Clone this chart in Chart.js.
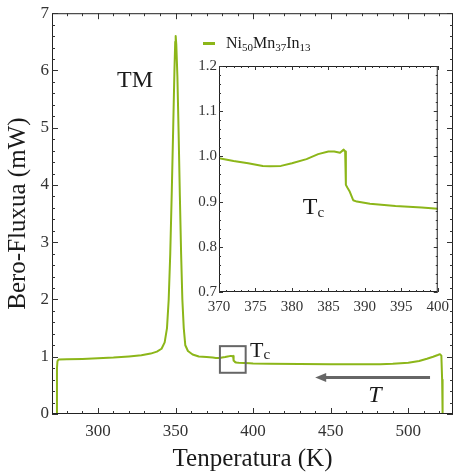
<!DOCTYPE html>
<html>
<head>
<meta charset="utf-8">
<script src="https://cdn.jsdelivr.net/npm/chart.js@4.4.0/dist/chart.umd.min.js"></script>
<style>
  body { margin: 0; background: #fff; }
  #wrap { position: relative; width: 455px; height: 475px; }
  #main { position: absolute; left: 0; top: 0; }
  #inset { position: absolute; left: 190px; top: 55px; }
</style>
</head>
<body>
<div id="wrap">
  <canvas id="main" width="455" height="475"></canvas>
  <canvas id="inset" width="265" height="260"></canvas>
</div>
<script>
// DSC cooling curve, heat flow (mW) vs temperature (K)
var temperature = [
  273.5, 273.6, 273.9, 274.6, 280, 290, 300, 310, 320, 328, 334, 338, 341, 343,
  344.5, 345.6, 346.6, 347.6, 348.5, 349.3, 349.8, 350.1, 350.5, 351.2, 352.0,
  352.8, 353.6, 354.4, 355.3, 356.3, 358, 361, 365,
  370, 372, 374, 376, 377, 378.5, 380, 382, 383.6, 385, 385.8, 386.6, 387.1,
  387.3, 387.4, 387.6, 387.9, 388.4, 388.9, 390.7, 394.2, 397.8, 400,
  410, 430, 450, 470, 482, 490, 500, 507, 512, 516, 519, 520.4, 521.3, 521.8, 522.1
];
var heatFlow = [
  0, 0.80, 0.92, 0.95, 0.955, 0.962, 0.972, 0.985, 1.005, 1.025, 1.055, 1.09, 1.14, 1.25,
  1.5, 2.0, 2.8, 3.9, 5.0, 6.0, 6.5, 6.6, 6.45, 5.9, 4.9,
  3.8, 2.8, 2.0, 1.5, 1.2, 1.1, 1.04, 1.005,
  0.996, 0.99, 0.985, 0.979, 0.978, 0.979, 0.985, 0.994, 1.005, 1.011, 1.011, 1.008, 1.015,
  1.011, 0.937, 0.931, 0.923, 0.903, 0.900, 0.895, 0.890, 0.887, 0.884,
  0.878, 0.873, 0.870, 0.868, 0.869, 0.877, 0.895, 0.925, 0.965, 1.0, 1.03, 1.045, 1.02, 0.6, 0
];

var xTicks = [300, 350, 400, 450, 500];
var yTicks = [0, 1, 2, 3, 4, 5, 6, 7];
var insetXTicks = [370, 375, 380, 385, 390, 395, 400];
var insetYTicks = [0.7, 0.8, 0.9, 1.0, 1.1, 1.2];

var lineColor = 'rgb(140,182,25)';
var serif = '"Liberation Serif", "DejaVu Serif", serif';

var points = temperature.map(function (t, i) { return { x: t, y: heatFlow[i] }; });

// frame on all four sides with inward major/minor ticks (Mathematica style)
function frameTicks(cfg) {
  function isMajor(list, v, step) {
    return list.some(function (m) { return Math.abs(m - v) < step / 10; });
  }
  return {
    id: 'frameTicks',
    afterDraw: function (chart) {
      var ctx = chart.ctx, a = chart.chartArea, sx = chart.scales.x, sy = chart.scales.y;
      var i, v, p, len;
      ctx.save();
      ctx.strokeStyle = '#222';
      ctx.lineWidth = 1;
      ctx.strokeRect(a.left + 0.5, a.top + 0.5, a.right - a.left - 1, a.bottom - a.top - 1);
      ctx.strokeStyle = '#333';
      ctx.beginPath();
      for (i = Math.ceil(cfg.xMin / cfg.xStep - 1e-9); i * cfg.xStep <= cfg.xMax + 1e-9; i++) {
        v = i * cfg.xStep;
        p = Math.round(sx.getPixelForValue(v)) + 0.5;
        len = isMajor(cfg.xMajor, v, cfg.xStep) ? cfg.major : cfg.minor;
        ctx.moveTo(p, a.bottom); ctx.lineTo(p, a.bottom - len);
        ctx.moveTo(p, a.top); ctx.lineTo(p, a.top + len);
      }
      for (i = Math.ceil(cfg.yMin / cfg.yStep - 1e-9); i * cfg.yStep <= cfg.yMax + 1e-9; i++) {
        v = i * cfg.yStep;
        p = Math.round(sy.getPixelForValue(v)) + 0.5;
        len = isMajor(cfg.yMajor, v, cfg.yStep) ? cfg.major : cfg.minor;
        ctx.moveTo(a.left, p); ctx.lineTo(a.left + len, p);
        ctx.moveTo(a.right, p); ctx.lineTo(a.right - len, p);
      }
      ctx.stroke();
      ctx.restore();
    }
  };
}

// text with a lowered, smaller subscript run; returns the drawn width
function subText(ctx, parts, x, y, size, subSize, drop) {
  var cx = x;
  parts.forEach(function (part, k) {
    var sub = k % 2 === 1;
    ctx.font = (sub ? subSize : size) + 'px ' + serif;
    ctx.fillText(part, cx, sub ? y + drop : y);
    cx += ctx.measureText(part).width;
  });
  return cx - x;
}

var mainNotes = {
  id: 'mainNotes',
  afterDraw: function (chart) {
    var ctx = chart.ctx, a = chart.chartArea, sx = chart.scales.x, sy = chart.scales.y;
    ctx.save();
    ctx.fillStyle = '#1a1a1a';
    ctx.textBaseline = 'alphabetic';
    ctx.textAlign = 'left';

    // legend
    ctx.strokeStyle = lineColor;
    ctx.lineWidth = 3;
    ctx.beginPath();
    ctx.moveTo(a.left + 151, 43.5); ctx.lineTo(a.left + 163, 43.5);
    ctx.stroke();
    subText(ctx, ['Ni', '50', 'Mn', '37', 'In', '13'], a.left + 174, 48, 16, 11, 3);

    // peak label
    ctx.font = '24px ' + serif;
    ctx.fillText('TM', sx.getPixelForValue(312.3), sy.getPixelForValue(5.71));

    // zoom box around the Curie step
    ctx.strokeStyle = '#666';
    ctx.lineWidth = 2;
    var bx0 = sx.getPixelForValue(378.6), bx1 = sx.getPixelForValue(395.2);
    var by0 = sy.getPixelForValue(1.185), by1 = sy.getPixelForValue(0.72);
    ctx.strokeRect(bx0, by0, bx1 - bx0, by1 - by0);
    subText(ctx, ['T', 'c'], sx.getPixelForValue(398.0), sy.getPixelForValue(0.993), 22, 15, 2);

    // cooling direction arrow
    var ay = Math.round(sy.getPixelForValue(0.65)) + 0.5;
    var ax0 = sx.getPixelForValue(514), ax1 = sx.getPixelForValue(440);
    ctx.lineWidth = 3;
    ctx.beginPath();
    ctx.moveTo(ax0, ay); ctx.lineTo(ax1 + 8, ay);
    ctx.stroke();
    ctx.fillStyle = '#666';
    ctx.beginPath();
    ctx.moveTo(ax1, ay); ctx.lineTo(ax1 + 11, ay - 4.5); ctx.lineTo(ax1 + 11, ay + 4.5);
    ctx.closePath();
    ctx.fill();

    ctx.fillStyle = '#1a1a1a';
    ctx.font = 'italic 24px ' + serif;
    ctx.textAlign = 'center';
    ctx.fillText('T', sx.getPixelForValue(478.5), sy.getPixelForValue(0.21));
    ctx.restore();
  }
};

var insetNotes = {
  id: 'insetNotes',
  afterDraw: function (chart) {
    var ctx = chart.ctx, sx = chart.scales.x, sy = chart.scales.y;
    ctx.save();
    ctx.fillStyle = '#1a1a1a';
    ctx.textAlign = 'left';
    subText(ctx, ['T', 'c'], sx.getPixelForValue(381.5), sy.getPixelForValue(0.872), 24, 15, 3);
    ctx.restore();
  }
};

function tickSetter(list) {
  return function (scale) {
    scale.ticks = list.map(function (v) { return { value: v }; });
  };
}

new Chart(document.getElementById('main').getContext('2d'), {
  type: 'line',
  data: {
    datasets: [{
      label: 'Ni50Mn37In13',
      data: points,
      borderColor: lineColor,
      borderWidth: 2,
      pointRadius: 0,
      tension: 0,
      borderJoinStyle: 'round'
    }]
  },
  options: {
    responsive: false,
    devicePixelRatio: 1,
    animation: false,
    layout: { padding: { left: 0, right: 2, top: 12, bottom: 0 } },
    plugins: {
      legend: { display: false },
      tooltip: { enabled: false }
    },
    scales: {
      x: {
        type: 'linear',
        min: 270.4,
        max: 528.8,
        grid: { display: false, drawTicks: false },
        border: { display: false },
        afterBuildTicks: tickSetter(xTicks),
        afterFit: function (s) { s.height = 61; },
        ticks: { color: '#333', padding: 7, font: { family: serif, size: 17 } },
        title: { display: true, text: 'Tenperatura (K)', color: '#1a1a1a', padding: { top: 0, bottom: 1 }, font: { family: serif, size: 25 } }
      },
      y: {
        min: 0,
        max: 7,
        grid: { display: false, drawTicks: false },
        border: { display: false },
        afterBuildTicks: tickSetter(yTicks),
        afterFit: function (s) { s.width = 52; },
        ticks: { color: '#333', padding: 3, font: { family: serif, size: 17 } },
        title: { display: true, text: 'Bero-Fluxua (mW)', color: '#1a1a1a', padding: { top: 3, bottom: 0 }, font: { family: serif, size: 25 } }
      }
    }
  },
  plugins: [frameTicks({ xMin: 270.4, xMax: 528.8, yMin: 0, yMax: 7, xStep: 10, yStep: 0.2, xMajor: xTicks, yMajor: yTicks, major: 6, minor: 3 }), mainNotes]
});

new Chart(document.getElementById('inset').getContext('2d'), {
  type: 'line',
  data: {
    datasets: [{
      data: points,
      borderColor: lineColor,
      borderWidth: 2,
      pointRadius: 0,
      tension: 0,
      borderJoinStyle: 'round'
    }]
  },
  options: {
    responsive: false,
    devicePixelRatio: 1,
    animation: false,
    layout: { padding: { left: 0, right: 10, top: 10, bottom: 0 } },
    plugins: {
      legend: { display: false },
      tooltip: { enabled: false }
    },
    scales: {
      x: {
        type: 'linear',
        min: 370,
        max: 400,
        grid: { display: false, drawTicks: false },
        border: { display: false },
        afterBuildTicks: tickSetter(insetXTicks),
        afterFit: function (s) { s.height = 23; },
        ticks: { color: '#333', padding: 6, font: { family: serif, size: 15 } }
      },
      y: {
        min: 0.7,
        max: 1.2,
        grid: { display: false, drawTicks: false },
        border: { display: false },
        afterBuildTicks: tickSetter(insetYTicks),
        afterFit: function (s) { s.width = 29; },
        ticks: {
          color: '#333', padding: 2, font: { family: serif, size: 15 },
          callback: function (v) { return v.toFixed(1); }
        }
      }
    }
  },
  plugins: [frameTicks({ xMin: 370, xMax: 400, yMin: 0.7, yMax: 1.2, xStep: 1, yStep: 0.02, xMajor: insetXTicks, yMajor: insetYTicks, major: 4, minor: 2 }), insetNotes]
});
</script>
</body>
</html>
